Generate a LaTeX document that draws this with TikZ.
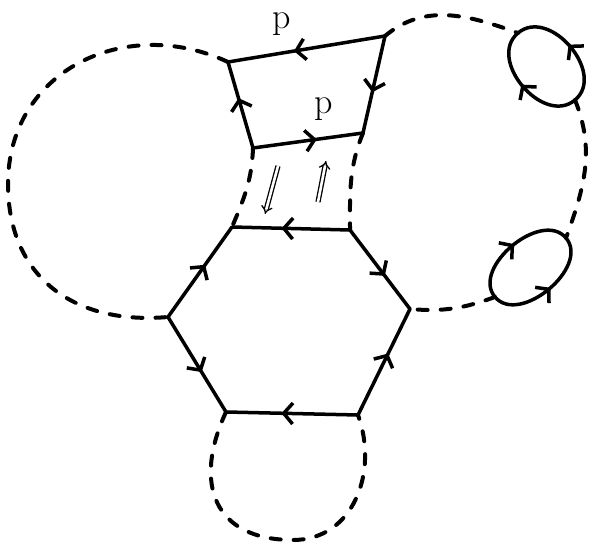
\documentclass[tikz,border=0pt]{standalone}
\usepackage{tikz}
\usetikzlibrary{arrows.meta, decorations.markings}

\tikzset{
  fermion/.style={line width=3.5pt, line cap=round, postaction={decorate},
    decoration={markings, mark=at position #1 with {\arrow{Straight Barb[length=9pt, width=21pt]}}}},
  fermion/.default=0.58,
  ghost/.style={line width=4pt, line cap=round, dash pattern=on 10pt off 13pt},
  transfer/.style={double, double distance=2.6pt, line width=1.3pt, -{Implies}},
  plabel/.style={font=\fontsize{36}{40}\selectfont, inner sep=0pt},
}

\begin{document}
\begin{tikzpicture}[x=1pt, y=1pt]
  \useasboundingbox (0,0) rectangle (589,544);

  % Hexagon corners
  \coordinate (hTL) at (232,317);
  \coordinate (hTR) at (350,314);
  \coordinate (hR) at (410,235);
  \coordinate (hBR) at (358,129);
  \coordinate (hBL) at (226,132);
  \coordinate (hL) at (168,227);

  % Quadrilateral corners
  \coordinate (qTL) at (228,482);
  \coordinate (qTR) at (385,508);
  \coordinate (qBR) at (363,411);
  \coordinate (qBL) at (253,396);

  % Loop ends and way points
  \coordinate (ua) at (518,511);
  \coordinate (ub) at (575,444);
  \coordinate (la) at (566,306);
  \coordinate (lb) at (495,247);
  \coordinate (lwest) at (8,360);
  \coordinate (bsouth) at (293,4);

  % Dashed lines
  \draw[ghost] (qTL) to[out=155, in=90, looseness=1.15] (lwest)
    to[out=-90, in=185, looseness=1.15] (hL);
  \draw[ghost] (hBL) to[out=245, in=180, looseness=1.4] (bsouth)
    to[out=0, in=290, looseness=1.1] (hBR);
  \draw[ghost] (qBL) to[out=-92, in=67] (hTL);
  \draw[ghost] (qBR) to[out=-112, in=90] (hTR);
  \draw[ghost] (qTR) to[out=40, in=160] (ua);
  \draw[ghost] (ub) to[out=-68, in=70] (la);
  \draw[ghost] (lb) to[out=200, in=-5] (hR);

  % Hexagon edges
  \draw[fermion] (hTR) -- (hTL);
  \draw[fermion] (hL) -- (hTL);
  \draw[fermion] (hL) -- (hBL);
  \draw[fermion] (hBR) -- (hBL);
  \draw[fermion] (hBR) -- (hR);
  \draw[fermion] (hTR) -- (hR);

  % Quadrilateral edges
  \draw[fermion] (qTR) -- (qTL);
  \draw[fermion] (qBL) -- (qTL);
  \draw[fermion] (qBL) -- (qBR);
  \draw[fermion] (qTR) -- (qBR);

  % Small loops
  \draw[fermion=0.52] (ub) to[out=40, in=40, looseness=1.2] (ua);
  \draw[fermion=0.52] (ub) to[out=220, in=220, looseness=1.2] (ua);
  \draw[fermion=0.52] (lb) to[out=130, in=130, looseness=1.05] (la);
  \draw[fermion=0.52] (lb) to[out=-50, in=-50, looseness=1.05] (la);

  % Labels
  \node[plabel] (ptop) at (282,520) {p};
  \node[plabel] (pmid) at (324,435) {p};

  % Double arrows
  \coordinate (lfa) at (278,378);
  \coordinate (lfb) at (265,330);
  \coordinate (rga) at (318,342);
  \coordinate (rgb) at (326,383);
  \draw[transfer] (lfa) -- (lfb);
  \draw[transfer] (rga) -- (rgb);
\end{tikzpicture}
\end{document}
